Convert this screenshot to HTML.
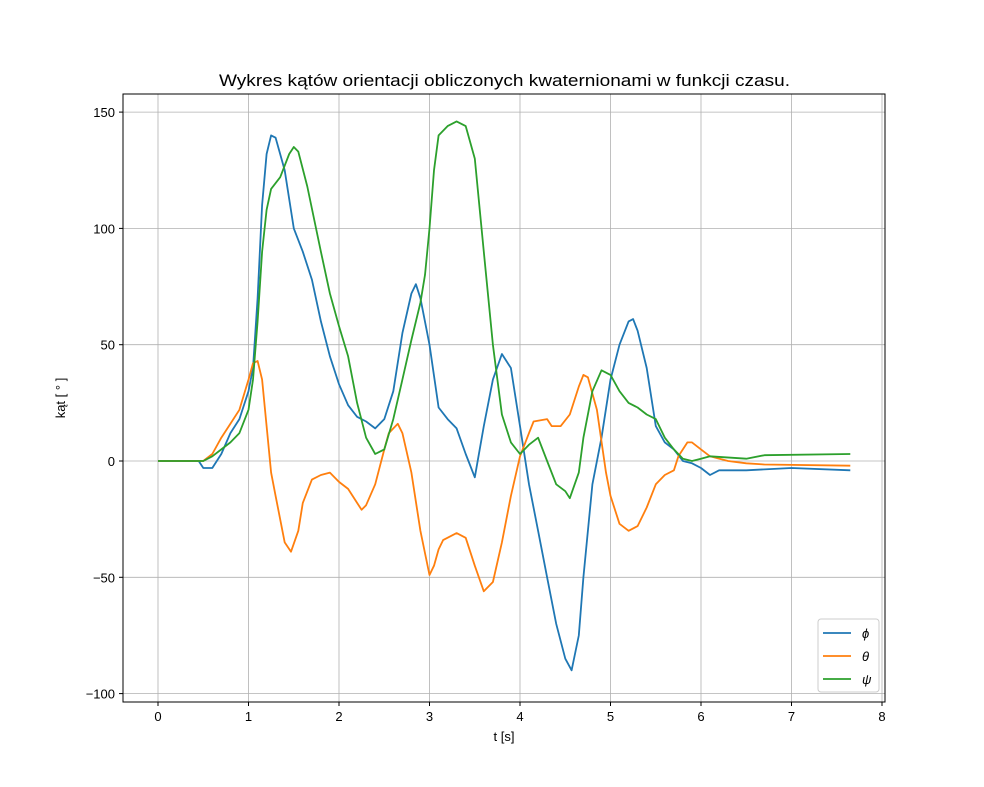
<!DOCTYPE html>
<html><head><meta charset="utf-8"><style>
body{margin:0;background:#fff;}
svg{display:block;font-family:"Liberation Sans","DejaVu Sans",sans-serif;}
</style></head><body>
<svg id="chart" width="984" height="787">
<rect width="984" height="787" fill="#fff"/>
<text x="219" y="86" font-size="17" textLength="571" lengthAdjust="spacingAndGlyphs">Wykres kątów orientacji obliczonych kwaternionami w funkcji czasu.</text>
<g id="grid"></g>
<g id="series"></g>
<rect x="123" y="94" width="762" height="608" fill="none" stroke="#000" stroke-width="1"/>
<g id="ticks"></g>
<text x="504" y="741" font-size="13" text-anchor="middle">t [s]</text>
<text transform="translate(65,398) rotate(-90)" font-size="13" text-anchor="middle">kąt [ ° ]</text>
<g id="legend"></g>
</svg>
<script>
const xTicks=[0,1,2,3,4,5,6,7,8];
const yTicks=[-100,-50,0,50,100,150];
const seriesNames=['ϕ','θ','ψ'];
const seriesColors=['#1f77b4','#ff7f0e','#2ca02c'];
const phiT=[0,0.45,0.5,0.6,0.7,0.8,0.9,1.0,1.05,1.1,1.15,1.2,1.25,1.3,1.4,1.5,1.6,1.7,1.8,1.9,2.0,2.1,2.2,2.3,2.4,2.5,2.6,2.7,2.8,2.85,2.9,3.0,3.1,3.2,3.3,3.4,3.5,3.6,3.7,3.8,3.9,4.0,4.1,4.2,4.3,4.4,4.5,4.57,4.65,4.7,4.8,4.9,5.0,5.1,5.2,5.25,5.3,5.4,5.5,5.6,5.7,5.8,5.9,6.0,6.1,6.2,6.5,7.0,7.65];
const phiV=[0,0,-3,-3,3,12,18,30,40,70,110,132,140,139,125,100,90,78,60,45,33,24,19,17,14,18,30,55,72,76,70,50,23,18,14,3,-7,15,35,46,40,15,-10,-30,-50,-70,-85,-90,-75,-50,-10,10,35,50,60,61,56,40,15,8,5,0,-1,-3,-6,-4,-4,-3,-4];
const thetaT=[0,0.5,0.6,0.7,0.8,0.9,1.0,1.05,1.1,1.15,1.2,1.25,1.3,1.4,1.47,1.55,1.6,1.7,1.8,1.9,2.0,2.1,2.2,2.25,2.3,2.4,2.5,2.55,2.65,2.7,2.8,2.9,3.0,3.05,3.1,3.15,3.3,3.4,3.5,3.6,3.7,3.8,3.9,4.0,4.1,4.15,4.3,4.35,4.45,4.55,4.65,4.7,4.75,4.85,4.95,5.0,5.1,5.2,5.3,5.4,5.5,5.6,5.7,5.75,5.85,5.9,6.0,6.1,6.3,6.5,6.7,7.65];
const thetaV=[0,0,3,10,16,22,35,42,43,35,15,-5,-15,-35,-39,-30,-18,-8,-6,-5,-9,-12,-18,-21,-19,-10,5,12,16,12,-5,-30,-49,-45,-38,-34,-31,-33,-45,-56,-52,-35,-15,2,12,17,18,15,15,20,32,37,36,22,-5,-15,-27,-30,-28,-20,-10,-6,-4,2,8,8,5,2,0,-1,-1.5,-2];
const psiT=[0,0.5,0.6,0.7,0.8,0.9,1.0,1.05,1.1,1.15,1.2,1.25,1.35,1.45,1.5,1.55,1.65,1.8,1.9,2.0,2.1,2.2,2.3,2.4,2.5,2.6,2.7,2.8,2.9,2.95,3.0,3.05,3.1,3.2,3.3,3.4,3.5,3.6,3.7,3.8,3.9,4.0,4.1,4.2,4.3,4.4,4.5,4.55,4.65,4.7,4.8,4.9,5.0,5.1,5.2,5.3,5.4,5.5,5.6,5.7,5.8,5.9,6.0,6.1,6.5,6.7,7.65];
const psiV=[0,0,2,5,8,12,22,35,60,90,108,117,122,132,135,133,118,90,72,58,45,25,10,3,5,18,35,52,68,80,100,125,140,144,146,144,130,90,50,20,8,3,7,10,0,-10,-13,-16,-5,10,30,39,37,30,25,23,20,18,10,5,1,0,1,2,1,2.5,3];
const NS='http://www.w3.org/2000/svg';
const X0=123,X1=885,Y0=94,Y1=702;
function sx(t){return 158+t*90.5;}
function sy(v){return 461-v*2.326;}
function mk(tag,attrs,parent){const e=document.createElementNS(NS,tag);for(const k in attrs)e.setAttribute(k,attrs[k]);parent.appendChild(e);return e;}
const grid=document.getElementById('grid'),ticks=document.getElementById('ticks');
xTicks.forEach(t=>{const x=sx(t);
 const g=mk('line',{x1:x,x2:x,y1:Y0,y2:Y1,stroke:'#b0b0b0','stroke-width':0.8},grid);
 
 
 mk('line',{x1:x,x2:x,y1:Y1,y2:Y1+4,stroke:'#000'},ticks);
 const l=mk('text',{x:x,y:Y1+19,'font-size':13,'text-anchor':'middle'},ticks);l.textContent=t;
 
 
});
yTicks.forEach(v=>{const y=sy(v);
 const g=mk('line',{x1:X0,x2:X1,y1:y,y2:y,stroke:'#b0b0b0','stroke-width':0.8},grid);
 
 
 mk('line',{x1:X0-4,x2:X0,y1:y,y2:y,stroke:'#000'},ticks);
 const l=mk('text',{x:X0-8,y:y+5,'font-size':13,'text-anchor':'end'},ticks);l.textContent=v<0?'\u2212'+(-v):v;
 
 
});
const ser=document.getElementById('series');
const data=[[phiT,phiV],[thetaT,thetaV],[psiT,psiV]];
const names=['phi-line','theta-line','psi-line'];
data.forEach((d,i)=>{
 const pts=d[0].map((t,j)=>sx(t).toFixed(1)+','+sy(d[1][j]).toFixed(1)).join(' ');
 const p=mk('polyline',{points:pts,fill:'none',stroke:seriesColors[i],'stroke-width':1.8,'stroke-linejoin':'round'},ser);
 
 
});
const lg=document.getElementById('legend');
const box=mk('rect',{x:818,y:619,width:61,height:73,rx:3,fill:'#fff','fill-opacity':0.8,stroke:'#ccc'},lg);


seriesNames.forEach((n,i)=>{const y=633+i*23;
 const l=mk('line',{x1:823,x2:851,y1:y,y2:y,stroke:seriesColors[i],'stroke-width':1.8},lg);
 
 
 const t=mk('text',{x:862,y:y+5,'font-size':13,'font-style':'italic'},lg);t.textContent=n;
 
 
});
</script>
</body></html>
